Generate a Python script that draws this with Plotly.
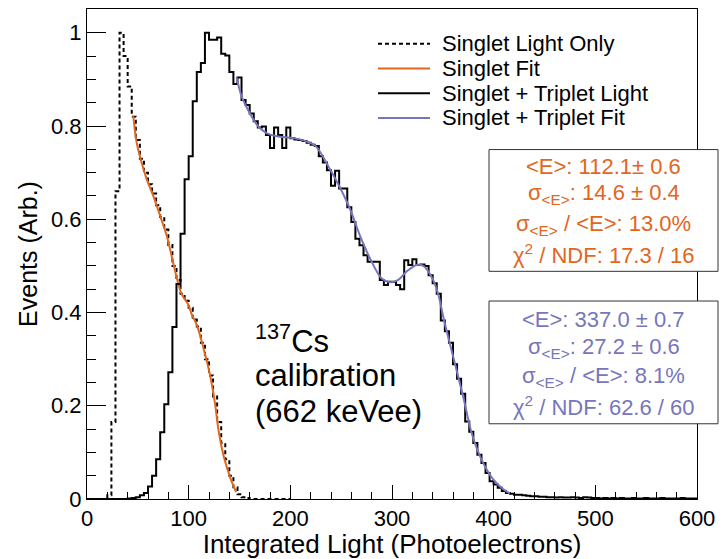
import plotly.graph_objects as go

# ---------------- data ----------------
bin_width = 4
# Singlet + Triplet light histogram (bins of 4 PE starting at 0)
st_light = [
    0, 0, 0, 0, 0, 0, 0, 0, 0, 0,                     # 0-36
    0.001, 0.002, 0.004, 0.008, 0.013, 0.027, 0.050, 0.085, 0.143, 0.203,   # 40-76
    0.272, 0.369, 0.461, 0.569, 0.686, 0.735, 0.853, 0.916, 0.935, 1.000,   # 80-116
    0.985, 0.985, 0.990, 0.955, 0.951, 0.916, 0.890, 0.904, 0.856, 0.845,   # 120-156
    0.827, 0.810, 0.797, 0.799, 0.781, 0.753, 0.797, 0.781, 0.753, 0.797,   # 160-196
    0.774, 0.771, 0.770, 0.768, 0.764, 0.760, 0.757, 0.735, 0.722, 0.705,   # 200-236
    0.672, 0.704, 0.666, 0.666, 0.626, 0.594, 0.558, 0.544, 0.523, 0.509,   # 240-276
    0.509, 0.509, 0.470, 0.459, 0.466, 0.466, 0.459, 0.450, 0.512, 0.502,   # 280-316
    0.514, 0.502, 0.503, 0.500, 0.480, 0.463, 0.440, 0.383, 0.360, 0.335,   # 320-356
    0.289, 0.258, 0.226, 0.166, 0.144, 0.120, 0.095, 0.077, 0.056, 0.038,   # 360-396
    0.031, 0.024, 0.017, 0.013, 0.011, 0.009, 0.009, 0.008, 0.007, 0.006,   # 400-436
    0.006, 0.005, 0.005, 0.004, 0.004, 0.003, 0.004, 0.003, 0.003, 0.004,   # 440-476
    0.003, 0.002, 0.004, 0.003, 0.002, 0.002, 0.001, 0.002, 0.001, 0.002,   # 480-516
    0.001, 0.002, 0.001, 0.001, 0.002, 0.001, 0.001, 0.002, 0.001, 0.001,   # 520-556
    0.001, 0.002, 0.001, 0.001, 0.001, 0.001, 0.002, 0.001, 0.001, 0.001,   # 560-596
]
# Singlet light only histogram (bins of 4 PE starting at 0)
s_light = [
    0, 0, 0, 0, 0, 0.008, 0.165, 0.660, 1.000, 0.950,                        # 0-36
    0.885, 0.820, 0.770, 0.730, 0.700, 0.675, 0.655, 0.630, 0.605, 0.578,   # 40-76
    0.545, 0.500, 0.470, 0.440, 0.425, 0.410, 0.385, 0.370, 0.335, 0.300,   # 80-116
    0.265, 0.220, 0.165, 0.120, 0.085, 0.050, 0.025, 0.010, 0.004, 0.002,   # 120-156
    0, 0, 0, 0, 0, 0, 0, 0, 0, 0,                                           # 160-196
]
# Singlet fit curve samples
s_fit_x = [45.5, 48.9, 53.8, 58.7, 65.2, 71.8, 78.4, 84.9, 89.8, 93.0, 99.6,
           103.0, 107.9, 114.4, 121.0, 125.9, 129.2, 134.1, 140.7, 146.6]
s_fit_y = [0.822, 0.764, 0.721, 0.686, 0.650, 0.608, 0.565, 0.505, 0.462, 0.440,
           0.417, 0.396, 0.374, 0.325, 0.266, 0.205, 0.150, 0.095, 0.047, 0.015]
# Singlet + Triplet fit curve samples
st_fit_x = [147.2, 152.2, 160.3, 168.5, 176.7, 186.6, 203.0, 216.0, 224.3, 230.8,
            237.3, 248.8, 258.7, 268.5, 278.4, 289.9, 298.0, 306.2, 314.4, 324.3,
            330.8, 340.0, 345.6, 350.5, 360.3, 370.1, 378.4, 388.2, 399.6, 409.5, 416.0]
st_fit_y = [0.904, 0.863, 0.827, 0.799, 0.785, 0.778, 0.774, 0.767, 0.758, 0.739,
            0.714, 0.668, 0.622, 0.565, 0.516, 0.473, 0.465, 0.470, 0.488, 0.502,
            0.500, 0.472, 0.438, 0.390, 0.304, 0.219, 0.141, 0.084, 0.042, 0.021, 0.012]

x_ticks = [0, 100, 200, 300, 400, 500, 600]
y_ticks = [0, 0.2, 0.4, 0.6, 0.8, 1]

legend_names = ["Singlet Light Only", "Singlet Fit",
                "Singlet + Triplet Light", "Singlet + Triplet Fit"]
label_lines = ["<sup>137</sup>Cs", "calibration", "(662 keVee)"]
box1_lines = ["&lt;E&gt;: 112.1± 0.6",
              "σ<sub>&lt;E&gt;</sub>: 14.6 ± 0.4",
              "σ<sub>&lt;E&gt;</sub> / &lt;E&gt;: 13.0%",
              "χ<sup>2</sup> / NDF: 17.3 / 16"]
box2_lines = ["&lt;E&gt;: 337.0 ± 0.7",
              "σ<sub>&lt;E&gt;</sub>: 27.2 ± 0.6",
              "σ<sub>&lt;E&gt;</sub> / &lt;E&gt;: 8.1%",
              "χ<sup>2</sup> / NDF: 62.6 / 60"]

ORANGE = "#e2661c"
PURPLE = "#7676bc"
FONT = "Liberation Sans, Arial, Helvetica, sans-serif"

W, H = 727, 559
L, R, T, B = 87, 30, 8, 56
pw, ph = W - L - R, H - T - B


def px2paper(px, py):
    return (px - L) / pw, (H - B - py) / ph


def step_xy(vals):
    xs = [i * bin_width for i in range(len(vals) + 1)]
    ys = list(vals) + [vals[-1]]
    return [xs[0]] + xs + [xs[-1]], [0] + ys + [0]


styles = [dict(color="black", width=2, dash="4px,3px"),
          dict(color=ORANGE, width=2),
          dict(color="black", width=2),
          dict(color=PURPLE, width=2)]

fig = go.Figure()
sx, sy = step_xy(s_light)
fig.add_trace(go.Scatter(x=sx, y=sy, mode="lines", line_shape="hv",
                         line=styles[0], name=legend_names[0]))
fig.add_trace(go.Scatter(x=s_fit_x, y=s_fit_y, mode="lines", line_shape="spline",
                         line=styles[1], name=legend_names[1]))
tx, ty = step_xy(st_light)
fig.add_trace(go.Scatter(x=tx, y=ty, mode="lines", line_shape="hv",
                         line=styles[2], name=legend_names[2]))
fig.add_trace(go.Scatter(x=st_fit_x, y=st_fit_y, mode="lines", line_shape="spline",
                         line=styles[3], name=legend_names[3]))

annots = []
shapes = []

# statistics boxes: frame + one annotation per line
for lines, color, (top, bot), ys in [
        (box1_lines, ORANGE, (150, 273), [167, 195, 226, 256]),
        (box2_lines, PURPLE, (303, 427), [322, 350, 380, 409])]:
    x0, y0 = px2paper(489, top)
    x1, y1 = px2paper(718, bot)
    shapes.append(dict(type="rect", xref="paper", yref="paper", x0=x0, x1=x1,
                       y0=y1, y1=y0, line=dict(color="#333", width=1),
                       fillcolor="white", layer="above"))
    for txt, py in zip(lines, ys):
        ax, ay = px2paper(603.5, py)
        annots.append(dict(text=txt, xref="paper", yref="paper", x=ax, y=ay,
                           xanchor="center", yanchor="middle", showarrow=False,
                           font=dict(family=FONT, size=22, color=color)))

# calibration label, one line each
for txt, py in zip(label_lines, [341, 378, 415]):
    ax, ay = px2paper(253, py)
    annots.append(dict(text=txt, xref="paper", yref="paper", x=ax, y=ay,
                       xanchor="left", yanchor="middle", showarrow=False,
                       align="left", font=dict(family=FONT, size=31, color="black")))

# manual legend (ROOT style: tight rows)
for i, (name, st) in enumerate(zip(legend_names, styles)):
    py = 43 + 25 * i
    x0, y0 = px2paper(378, py)
    x1, _ = px2paper(430, py)
    shapes.append(dict(type="line", xref="paper", yref="paper", x0=x0, x1=x1,
                       y0=y0, y1=y0, line=st))
    tx_, ty_ = px2paper(440, py)
    annots.append(dict(text=name, xref="paper", yref="paper", x=tx_, y=ty_,
                       xanchor="left", yanchor="middle", showarrow=False,
                       font=dict(family=FONT, size=22, color="black")))

fig.update_layout(
    width=W, height=H,
    margin=dict(l=L, r=R, t=T, b=B),
    paper_bgcolor="white", plot_bgcolor="white",
    font=dict(family=FONT, color="black"),
    showlegend=False,
    annotations=annots,
    shapes=shapes,
)
fig.update_xaxes(range=[0, 600], tickvals=x_ticks, ticks="inside", ticklen=14,
                 tickcolor="black", tickwidth=1, showline=True, linecolor="black",
                 linewidth=1, mirror=True, showgrid=False, zeroline=False,
                 tickfont=dict(family=FONT, size=22),
                 minor=dict(dtick=20, ticks="inside", ticklen=7, tickcolor="black",
                            showgrid=False),
                 title=dict(text="Integrated Light (Photoelectrons)",
                            font=dict(family=FONT, size=26), standoff=1))
fig.update_yaxes(range=[0, 1.051], tickvals=y_ticks, ticks="inside", ticklen=19,
                 tickcolor="black", tickwidth=1, showline=True, linecolor="black",
                 linewidth=1, mirror=True, showgrid=False, zeroline=False,
                 tickfont=dict(family=FONT, size=22),
                 minor=dict(dtick=0.05, ticks="inside", ticklen=9, tickcolor="black",
                            showgrid=False),
                 title=dict(text="Events (Arb.)", font=dict(family=FONT, size=25),
                            standoff=6))

fig.write_html("out.html")
